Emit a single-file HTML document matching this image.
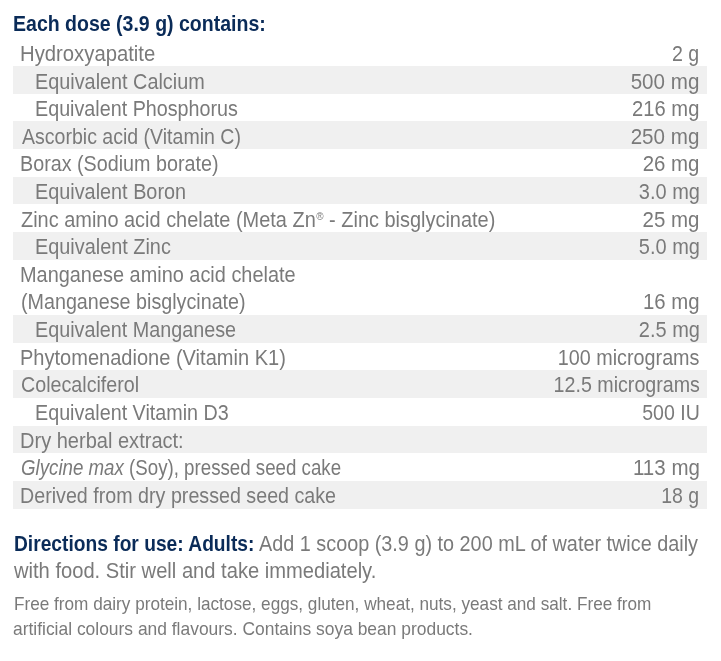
<!DOCTYPE html>
<html><head><meta charset="utf-8">
<style>
html,body{margin:0;padding:0;background:#fff;}
body{width:721px;height:661px;position:relative;overflow:hidden;font-family:"Liberation Sans",sans-serif;color:#7a7a7a;}
.band{position:absolute;left:13px;width:694px;background:#f0f0f0;}
.l,.r{position:absolute;font-size:19.6px;line-height:27.65px;white-space:nowrap;padding-top:2px;}
.l{transform-origin:0 18px;}
.r{right:21.5px;transform-origin:100% 18px;}
sup{font-size:50%;vertical-align:0;position:relative;top:-0.72em;margin-left:0.5px;}
.t{position:absolute;white-space:nowrap;line-height:30px;transform-origin:0 22px;}
.t.b{font-weight:bold;color:#0a2b58;}
.l,.r,.t{filter:blur(0);}
</style></head><body>
<div class="band" style="top:66.15px;height:27.65px"></div>
<div class="band" style="top:121.45px;height:27.65px"></div>
<div class="band" style="top:176.75px;height:27.65px"></div>
<div class="band" style="top:232.05px;height:27.65px"></div>
<div class="band" style="top:315.00px;height:27.65px"></div>
<div class="band" style="top:370.30px;height:27.65px"></div>
<div class="band" style="top:425.60px;height:27.65px"></div>
<div class="band" style="top:480.90px;height:27.65px"></div>
<div class="l" style="top:38.50px;left:20.20px;transform:scale(1.0352,1.1)">Hydroxyapatite</div>
<div class="r" style="top:38.50px;transform:scale(1.0004,1.1)">2 g</div>
<div class="l" style="top:66.75px;left:35.30px;transform:scale(1.0121,1.1)">Equivalent Calcium</div>
<div class="r" style="top:66.75px;transform:scale(1.0511,1.1)">500 mg</div>
<div class="l" style="top:93.80px;left:35.30px;transform:scale(1.0071,1.1)">Equivalent Phosphorus</div>
<div class="r" style="top:93.80px;transform:scale(1.0288,1.1)">216 mg</div>
<div class="l" style="top:122.05px;left:22.20px;transform:scale(0.9968,1.1)">Ascorbic acid (Vitamin C)</div>
<div class="r" style="top:122.05px;transform:scale(1.0511,1.1)">250 mg</div>
<div class="l" style="top:149.10px;left:20.20px;transform:scale(1.0073,1.1)">Borax (Sodium borate)</div>
<div class="r" style="top:149.10px;transform:scale(1.0427,1.1)">26 mg</div>
<div class="l" style="top:176.75px;left:35.30px;transform:scale(1.0123,1.1)">Equivalent Boron</div>
<div class="r" style="top:176.75px;transform:scale(1.0195,1.1)">3.0 mg</div>
<div class="l" style="top:205.00px;left:21.20px;transform:scale(1.0174,1.1)">Zinc amino acid chelate (Meta Zn<sup>®</sup> - Zinc bisglycinate)</div>
<div class="r" style="top:205.00px;transform:scale(1.0447,1.1)">25 mg</div>
<div class="l" style="top:232.05px;left:35.30px;transform:scale(1.0138,1.1)">Equivalent Zinc</div>
<div class="r" style="top:232.05px;transform:scale(1.0195,1.1)">5.0 mg</div>
<div class="l" style="top:259.70px;left:20.20px;transform:scale(1.0161,1.1)">Manganese amino acid chelate</div>
<div class="l" style="top:287.35px;left:21.20px;transform:scale(1.0059,1.1)">(Manganese bisglycinate)</div>
<div class="r" style="top:287.35px;transform:scale(1.0386,1.1)">16 mg</div>
<div class="l" style="top:315.00px;left:35.30px;transform:scale(1.0087,1.1)">Equivalent Manganese</div>
<div class="r" style="top:315.00px;transform:scale(1.0195,1.1)">2.5 mg</div>
<div class="l" style="top:342.65px;left:20.20px;transform:scale(1.0226,1.1)">Phytomenadione (Vitamin K1)</div>
<div class="r" style="top:342.65px;transform:scale(1.0086,1.1)">100 micrograms</div>
<div class="l" style="top:370.30px;left:21.20px;transform:scale(1.0045,1.1)">Colecalciferol</div>
<div class="r" style="top:370.30px;transform:scale(1.0028,1.1)">12.5 micrograms</div>
<div class="l" style="top:397.95px;left:35.30px;transform:scale(1.0069,1.1)">Equivalent Vitamin D3</div>
<div class="r" style="top:397.95px;transform:scale(0.9966,1.1)">500 IU</div>
<div class="l" style="top:425.60px;left:20.20px;transform:scale(1.0225,1.1)">Dry herbal extract:</div>
<div class="l" style="top:453.25px;left:21.20px;transform:scale(0.9542,1.1)"><i>Glycine max</i> (Soy), pressed seed cake</div>
<div class="r" style="top:453.25px;transform:scale(1.0472,1.1)">113 mg</div>
<div class="l" style="top:480.90px;left:20.20px;transform:scale(1.0042,1.1)">Derived from dry pressed seed cake</div>
<div class="r" style="top:480.90px;transform:scale(0.9951,1.1)">18 g</div>
<div class="t b" style="left:13.40px;top:10.31px;font-size:19.3px;transform-origin:0 21.69px;transform:scale(1.0126,1.1)">Each dose (3.9 g) contains:</div>
<div class="t b" style="left:14.00px;top:530.42px;font-size:19px;transform-origin:0 21.58px;transform:scale(1.0106,1.13)">Directions for use: Adults:</div>
<div class="t" style="left:259.00px;top:529.14px;font-size:19.8px;transform-origin:0 21.86px;transform:scale(1.0023,1.07)">Add 1 scoop (3.9 g) to 200 mL of water twice daily</div>
<div class="t" style="left:14.10px;top:556.14px;font-size:19.8px;transform-origin:0 21.86px;transform:scale(1.0181,1.07)">with food. Stir well and take immediately.</div>
<div class="t" style="left:13.80px;top:589.04px;font-size:17.2px;transform-origin:0 20.96px;transform:scale(0.9987,1.09)">Free from dairy protein, lactose, eggs, gluten, wheat, nuts, yeast and salt. Free from</div>
<div class="t" style="left:13.30px;top:614.04px;font-size:17.2px;transform-origin:0 20.96px;transform:scale(1.0135,1.09)">artificial colours and flavours. Contains soya bean products.</div>
</body></html>
